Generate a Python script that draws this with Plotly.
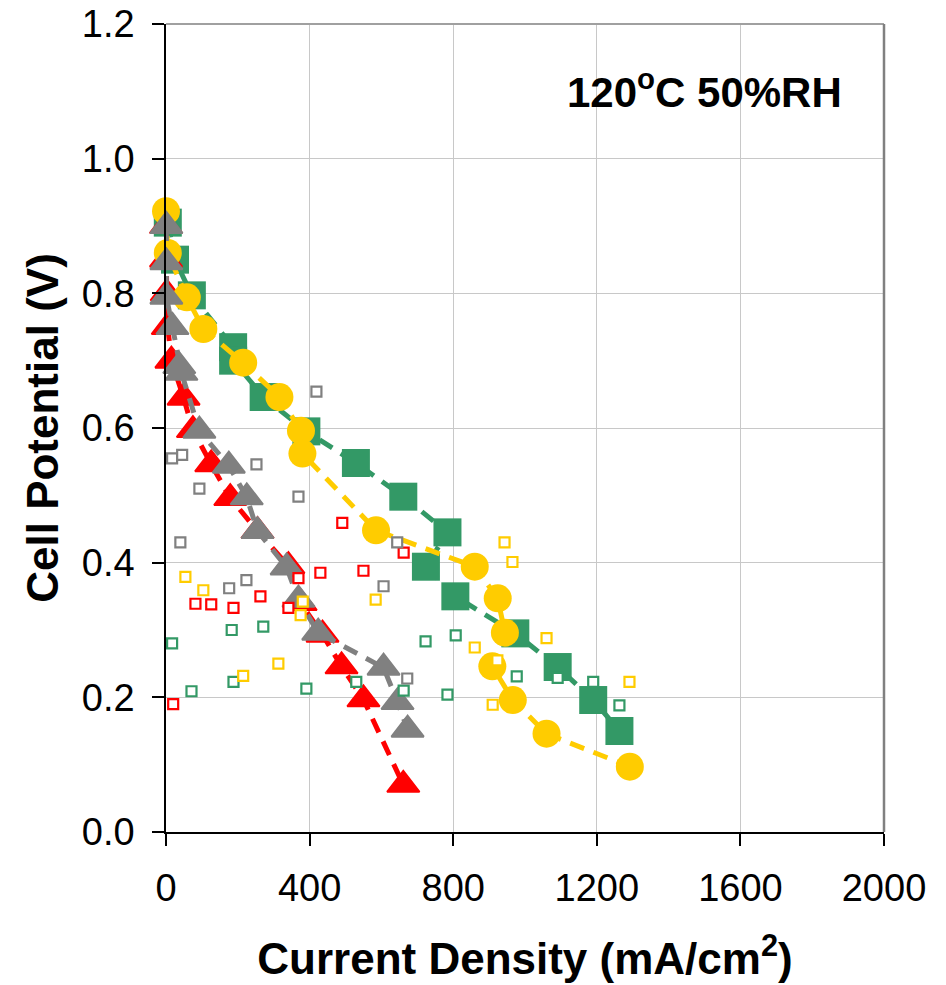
import plotly.graph_objects as go

# polarization curves (large markers, dashed lines)
green_j = [5, 25, 72, 187, 187, 272, 391, 529, 661, 784, 724, 806, 973, 1091, 1190, 1263]
green_v = [0.905, 0.85, 0.797, 0.72, 0.70, 0.646, 0.595, 0.548, 0.498, 0.445, 0.394, 0.350, 0.295, 0.245, 0.196, 0.150]

red_j = [0, 0, 2, 5, 15, 49, 75, 126, 179, 255, 341, 375, 436, 489, 550, 661]
red_v = [0.90, 0.85, 0.80, 0.75, 0.70, 0.645, 0.597, 0.546, 0.496, 0.447, 0.395, 0.340, 0.293, 0.246, 0.197, 0.070]

yellow_j = [0, 5, 58, 104, 215, 316, 376, 380, 585, 860, 924, 944, 909, 966, 1060, 1292]
yellow_v = [0.922, 0.86, 0.794, 0.747, 0.697, 0.646, 0.596, 0.562, 0.448, 0.394, 0.347, 0.296, 0.246, 0.196, 0.146, 0.097]

gray_j = [1, 1, 1, 18, 37, 43, 93, 175, 225, 255, 336, 369, 424, 606, 645, 673]
gray_v = [0.90, 0.846, 0.795, 0.75, 0.692, 0.682, 0.596, 0.544, 0.497, 0.447, 0.393, 0.345, 0.296, 0.244, 0.193, 0.152]

# small open squares
green_sq_j = [17, 183, 271, 188, 71, 391, 723, 807, 530, 662, 784, 977, 1091, 1190, 1263]
green_sq_v = [0.280, 0.300, 0.305, 0.223, 0.209, 0.213, 0.283, 0.292, 0.223, 0.210, 0.204, 0.231, 0.229, 0.223, 0.188]

red_sq_j = [491, 662, 550, 430, 369, 263, 82, 126, 188, 341, 20]
red_sq_v = [0.459, 0.415, 0.388, 0.385, 0.377, 0.350, 0.339, 0.338, 0.333, 0.333, 0.190]

yellow_sq_j = [54, 104, 381, 375, 313, 215, 943, 965, 584, 860, 910, 923, 1060, 1291]
yellow_sq_v = [0.379, 0.359, 0.342, 0.322, 0.250, 0.232, 0.430, 0.401, 0.345, 0.274, 0.189, 0.255, 0.288, 0.223]

gray_sq_j = [419, 17, 45, 252, 93, 369, 40, 224, 176, 606, 672, 644]
gray_sq_v = [0.654, 0.555, 0.560, 0.546, 0.510, 0.498, 0.430, 0.374, 0.362, 0.365, 0.228, 0.430]

GREEN = "#339966"
RED = "#FF0000"
YELLOW = "#FFCC00"
GRAY = "#808080"
FONT = "Arial, Liberation Sans, sans-serif"

fig = go.Figure()

big = [
    (green_j, green_v, GREEN, "square", 28),
    (red_j, red_v, RED, "triangle-up", 28),
    (yellow_j, yellow_v, YELLOW, "circle", 28),
    (gray_j, gray_v, GRAY, "triangle-up", 28),
]
for j, v, color, sym, size in big:
    fig.add_trace(go.Scatter(
        x=j, y=v, mode="lines+markers",
        line=dict(color=color, width=5, dash="15px,10px"),
        marker=dict(symbol=sym, size=size, color=color,
                    line=dict(color=color, width=2 if sym == "triangle-up" else 0)),
        cliponaxis=False,
    ))

small = [
    (green_sq_j, green_sq_v, GREEN),
    (red_sq_j, red_sq_v, RED),
    (yellow_sq_j, yellow_sq_v, YELLOW),
    (gray_sq_j, gray_sq_v, GRAY),
]
for j, v, color in small:
    fig.add_trace(go.Scatter(
        x=j, y=v, mode="markers",
        marker=dict(symbol="square", size=10, color="white",
                    line=dict(color=color, width=2.2)),
        cliponaxis=False,
    ))

fig.add_annotation(
    x=1500, y=1.103, xref="x", yref="y", showarrow=False,
    text="<b>120<sup>o</sup>C 50%RH</b>",
    font=dict(family=FONT, size=42, color="black"),
)

# frame on top and right
fig.add_shape(type="line", xref="x domain", yref="y domain", x0=0, x1=1, y0=1, y1=1,
              line=dict(color="#a0a0a0", width=2))
fig.add_shape(type="line", xref="x domain", yref="y domain", x0=1, x1=1, y0=0, y1=1,
              line=dict(color=GRAY, width=2.5))

# page body adds an 8px offset, margins account for it
fig.update_layout(
    width=946, height=985,
    margin=dict(l=158, r=70, t=16, b=161, autoexpand=False),
    plot_bgcolor="white", paper_bgcolor="white",
    showlegend=False,
    font=dict(family=FONT, color="black"),
)
fig.update_xaxes(
    range=[0, 2000], tick0=0, dtick=400, automargin=False,
    showline=True, linecolor="black", linewidth=1.5,
    ticks="outside", ticklen=12, tickcolor="black", tickwidth=1.5,
    showgrid=True, gridcolor="#c8c8c8", gridwidth=1, zeroline=False,
    tickfont=dict(size=38), ticklabelstandoff=10, ticklabeloverflow="allow",
    title=dict(text="<b>Current Density (mA/cm<sup>2</sup>)</b>",
               font=dict(size=44), standoff=35),
)
fig.update_yaxes(
    range=[0, 1.2], tick0=0, dtick=0.2, tickformat=".1f", automargin=False,
    showline=True, linecolor="black", linewidth=1.5,
    ticks="outside", ticklen=12, tickcolor="black", tickwidth=1.5,
    showgrid=True, gridcolor="#c8c8c8", gridwidth=1, zeroline=False,
    tickfont=dict(size=38), ticklabelstandoff=10, ticklabeloverflow="allow",
    title=dict(text="<b>Cell Potential (V)</b>", font=dict(size=44), standoff=9),
)

fig.write_html("out.html")
